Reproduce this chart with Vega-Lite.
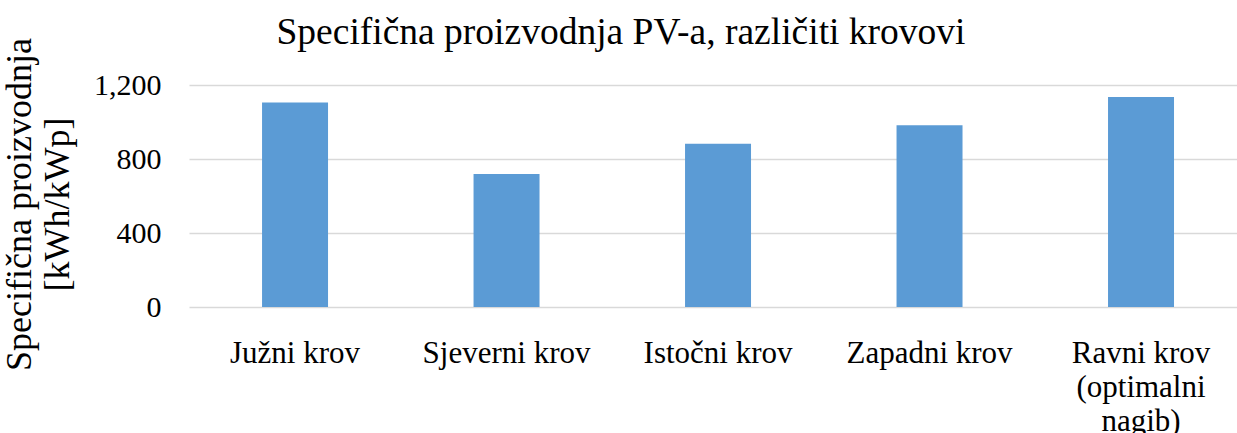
{
  "$schema": "https://vega.github.io/schema/vega-lite/v6.json",
  "width": 1048,
  "height": 222,
  "autosize": {"type": "none"},
  "padding": {"left": 189, "top": 85, "right": 0, "bottom": 126},
  "background": "white",
  "title": {
    "text": "Specifična proizvodnja PV-a, različiti krovovi",
    "font": "Times New Roman, Liberation Serif, serif",
    "fontSize": 37.5,
    "fontWeight": "normal",
    "color": "#000000",
    "anchor": "middle",
    "frame": "group",
    "baseline": "alphabetic",
    "offset": -44,
    "dx": -92
  },
  "data": {
    "values": [
      {"krov": "Južni krov", "proizvodnja": 1106},
      {"krov": "Sjeverni krov", "proizvodnja": 719},
      {"krov": "Istočni krov", "proizvodnja": 883},
      {"krov": "Zapadni krov", "proizvodnja": 982},
      {"krov": "Ravni krov (optimalni nagib)", "proizvodnja": 1135}
    ]
  },
  "mark": {"type": "bar", "color": "#5B9BD5"},
  "encoding": {
    "x": {
      "field": "krov",
      "type": "nominal",
      "sort": null,
      "scale": {"paddingInner": 0.688, "paddingOuter": 0.3216, "align": 0.537},
      "axis": {
        "title": null,
        "domain": false,
        "ticks": false,
        "labelAngle": 0,
        "labelFont": "Times New Roman, Liberation Serif, serif",
        "labelFontSize": 31,
        "labelColor": "#000000",
        "labelPadding": 31,
        "labelLineHeight": 34,
        "labelLimit": 400,
        "labelExpr": "datum.value == 'Ravni krov (optimalni nagib)' ? ['Ravni krov', '(optimalni', 'nagib)'] : datum.value"
      }
    },
    "y": {
      "field": "proizvodnja",
      "type": "quantitative",
      "scale": {"domain": [0, 1200]},
      "axis": {
        "title": ["Specifična proizvodnja", "[kWh/kWp]"],
        "titleFont": "Times New Roman, Liberation Serif, serif",
        "titleFontSize": 36,
        "titleFontWeight": "normal",
        "titleColor": "#000000",
        "titleLineHeight": 38,
        "titlePadding": 17,
        "titleY": 119,
        "values": [0, 400, 800, 1200],
        "format": ",d",
        "domain": false,
        "ticks": false,
        "labelFont": "Times New Roman, Liberation Serif, serif",
        "labelFontSize": 30,
        "labelColor": "#000000",
        "labelPadding": 28,
        "grid": true,
        "gridColor": "#d9d9d9",
        "gridWidth": 1.5
      }
    }
  },
  "config": {"view": {"stroke": null}}
}
